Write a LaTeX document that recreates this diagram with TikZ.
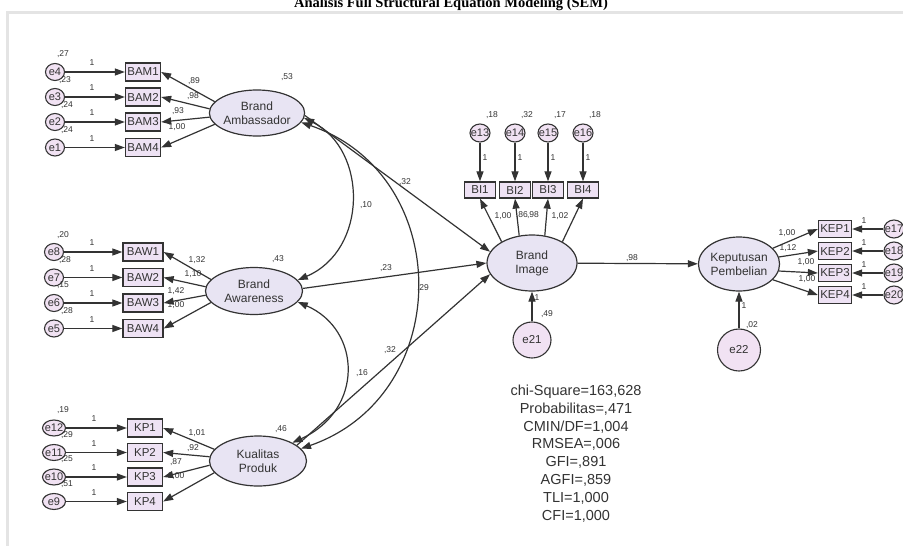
\documentclass[tikz,border=0pt]{standalone}
\usepackage{fontspec}
\setmainfont{Liberation Sans}
\newfontfamily\titlefont{Liberation Serif}
\usetikzlibrary{shapes.geometric,arrows.meta}
\definecolor{linec}{HTML}{333333}
\definecolor{boxfill}{HTML}{EEE2F4}
\definecolor{latfill}{HTML}{E8E4F3}
\definecolor{errfill}{HTML}{F1E2F3}
\definecolor{txtc}{HTML}{333333}
\definecolor{framec}{HTML}{E4E4E4}
\begin{document}
\begin{tikzpicture}[x=1pt,y=-1pt,
  every node/.style={text=txtc},
  obs/.style={rectangle, draw=linec, fill=boxfill, line width=1.3pt, minimum height=18pt, inner sep=1pt, font=\fontsize{11.5}{12}\selectfont},
  lat/.style={ellipse, draw=linec, fill=latfill, line width=1.2pt, align=center, inner sep=0pt, font=\fontsize{12}{14}\selectfont},
  err/.style={ellipse, draw=linec, fill=errfill, line width=1.1pt, minimum width=19pt, minimum height=17pt, inner sep=0pt},
  bigerr/.style={ellipse, draw=linec, fill=errfill, line width=1.1pt, minimum width=40pt, minimum height=38pt, inner sep=0pt, font=\fontsize{11.5}{12}\selectfont},
  etxt/.style={font=\fontsize{11}{12}\selectfont, text=txtc, inner sep=0pt},
  lbl/.style={font=\fontsize{8.5}{9}\selectfont, text=txtc, inner sep=0pt},
  arr/.style={draw=linec, line width=1.2pt, -{Triangle[length=10pt,width=7pt]}},
  dbl/.style={draw=linec, line width=1.2pt, {Triangle[length=10pt,width=7pt]}-{Triangle[length=10pt,width=7pt]}},
  titlestyle/.style={font=\titlefont\bfseries\fontsize{14.5}{16}\selectfont, text=black, anchor=base, inner sep=0pt}
]
\clip (0,0) rectangle (903,546);
\fill[white] (0,0) rectangle (903,546);
\draw[framec, line width=3pt] (7,546) -- (7,12) -- (903,12);
\node[titlestyle] (title) at (451,8) {Analisis Full Structural Equation Modeling (SEM)};

% ---------- Brand Ambassador ----------
\node[lat, minimum width=95pt, minimum height=46pt] (BA) at (257,113) {Brand\\Ambassador};
\foreach \i/\e/\y/\a in {1/4/72/165, 2/3/97/175, 3/2/122/185, 4/1/147.5/195}{
  \node[obs, minimum width=35pt] (BAM\i) at (143,\y) {BAM\i};
  \node[err, label={[etxt]center:e\e}] (e\e) at (55,\y) {};
  \draw[arr] (e\e) -- (BAM\i);
  \draw[arr] (BA.\a) -- (BAM\i.east);
  \node[lbl] at (92,\y-9) {1};
}
\node[lbl] at (63,54) {,27};
\node[lbl] at (65,80) {,23};
\node[lbl] at (67,105) {,24};
\node[lbl] at (67,130.5) {,24};
\node[lbl] at (194,81) {,89};
\node[lbl] at (193,96) {,98};
\node[lbl] at (178,111) {,93};
\node[lbl] at (177,127) {1,00};
\node[lbl] at (287,77) {,53};

% ---------- Brand Awareness ----------
\node[lat, minimum width=97pt, minimum height=47pt] (BAw) at (254,291) {Brand\\Awareness};
\foreach \i/\e/\y/\a in {1/8/252/165, 2/7/277.5/175, 3/6/303/185, 4/5/328.5/195}{
  \node[obs, minimum width=40pt] (BAW\i) at (143,\y) {BAW\i};
  \node[err, label={[etxt]center:e\e}] (e\e) at (54,\y) {};
  \draw[arr] (e\e) -- (BAW\i);
  \draw[arr] (BAw.\a) -- (BAW\i.east);
  \node[lbl] at (92,\y-9) {1};
}
\node[lbl] at (63,235) {,20};
\node[lbl] at (65,260) {,28};
\node[lbl] at (63,285) {,15};
\node[lbl] at (67,311) {,28};
\node[lbl] at (197,260) {1,32};
\node[lbl] at (193,274) {1,10};
\node[lbl] at (176,291) {1,42};
\node[lbl] at (176,305) {1,00};
\node[lbl] at (278,259) {,43};

% ---------- Kualitas Produk ----------
\node[lat, minimum width=97pt, minimum height=50pt] (KP) at (258,461) {Kualitas\\Produk};
\foreach \i/\e/\y/\a in {1/12/428/165, 2/11/452.5/175, 3/10/477/185, 4/9/501.5/195}{
  \node[obs, minimum width=35pt] (KP\i) at (145,\y) {KP\i};
  \node[err, minimum width=23pt, minimum height=16pt, label={[etxt]center:e\e}] (e\e) at (54,\y) {};
  \draw[arr] (e\e) -- (KP\i);
  \draw[arr] (KP.\a) -- (KP\i.east);
  \node[lbl] at (94,\y-9) {1};
}
\node[lbl] at (63,410) {,19};
\node[lbl] at (67,435) {,29};
\node[lbl] at (67,459.5) {,25};
\node[lbl] at (67,484) {,51};
\node[lbl] at (197,433) {1,01};
\node[lbl] at (193,448) {,92};
\node[lbl] at (176,462.5) {,87};
\node[lbl] at (176,476.5) {1,00};
\node[lbl] at (281,429) {,46};

% ---------- Brand Image ----------
\node[lat, minimum width=90pt, minimum height=56pt] (BI) at (532,263) {Brand\\Image};
\foreach \i/\e/\x/\a/\v in {1/13/480/145/{,18}, 2/14/515/115/{,32}, 3/15/548/65/{,17}, 4/16/583/35/{,18}}{
  \node[obs, minimum width=31pt, minimum height=16pt] (BI\i) at (\x,190) {BI\i};
  \node[err, minimum width=20pt, minimum height=18pt, label={[etxt]center:e\e}] (e\e) at (\x,133) {};
  \draw[arr] (e\e) -- (BI\i);
  \draw[arr] (BI.\a) -- (BI\i.south);
  \node[lbl] at (\x+5,158) {1};
  \node[lbl] at (\x+12,115) {\v};
}
\node[lbl] at (503,216) {1,00};
\node[lbl] at (522,215) {,86};
\node[lbl] at (533,215) {,98};
\node[lbl] at (560,216) {1,02};
\node[bigerr, minimum width=38pt, minimum height=36pt] (e21) at (532,340) {e21};
\draw[arr] (e21) -- (BI);
\node[lbl] at (537,298) {1};
\node[lbl] at (547,314) {,49};

% ---------- Keputusan Pembelian ----------
\node[lat, minimum width=78pt, minimum height=54pt] (KPB) at (739,264) {Keputusan\\Pembelian};
\foreach \i/\e/\y/\a in {1/17/229/25, 2/18/251/10, 3/19/273/-10, 4/20/295/-25}{
  \node[obs, minimum width=33pt, minimum height=17pt] (KEP\i) at (835,\y) {KEP\i};
  \node[err, minimum width=20pt, minimum height=18pt, label={[etxt]center:e\e}] (e\e) at (894,\y) {};
  \draw[arr] (e\e) -- (KEP\i);
  \draw[arr] (KPB.\a) -- (KEP\i.west);
  \node[lbl] at (864,\y-8) {1};
}
\node[lbl] at (787,233) {1,00};
\node[lbl] at (788,248) {1,12};
\node[lbl] at (806,262) {1,00};
\node[lbl] at (807,279) {1,00};
\node[bigerr, minimum width=43pt, minimum height=42pt] (e22) at (739,350) {e22};
\draw[arr] (e22) -- (KPB);
\node[lbl] at (744,306) {1};
\node[lbl] at (752,325) {,02};

% ---------- structural paths ----------
\draw[arr] (BI) -- (KPB);
\node[lbl] at (632,258) {,98};
\draw[arr] (BA.-3) -- (BI.165);
\node[lbl] at (405,182) {,32};
\draw[arr] (BAw.3) -- (BI.180);
\node[lbl] at (386,268) {,23};
\draw[arr] (KP.22) -- (BI.195);
\node[lbl] at (390,350) {,32};

% ---------- covariances ----------
\draw[dbl] (BA.-6) .. controls (368,150) and (368,250) .. (BAw.14);
\node[lbl] at (366,205) {,10};
\draw[dbl] (BA.-12) .. controls (455,175) and (455,395) .. (KP.16);
\node[lbl] at (423,288) {,29};
\draw[dbl] (BAw.-14) .. controls (362,330) and (364,410) .. (KP.28);
\node[lbl] at (362,373) {,16};

% ---------- fit statistics ----------
\node[font=\fontsize{14.5}{17.9}\selectfont, align=center, anchor=north, inner sep=0pt] (fit) at (576,384.5)
  {chi-Square=163,628\\Probabilitas=,471\\CMIN/DF=1,004\\RMSEA=,006\\GFI=,891\\AGFI=,859\\TLI=1,000\\CFI=1,000};
\end{tikzpicture}
\end{document}
